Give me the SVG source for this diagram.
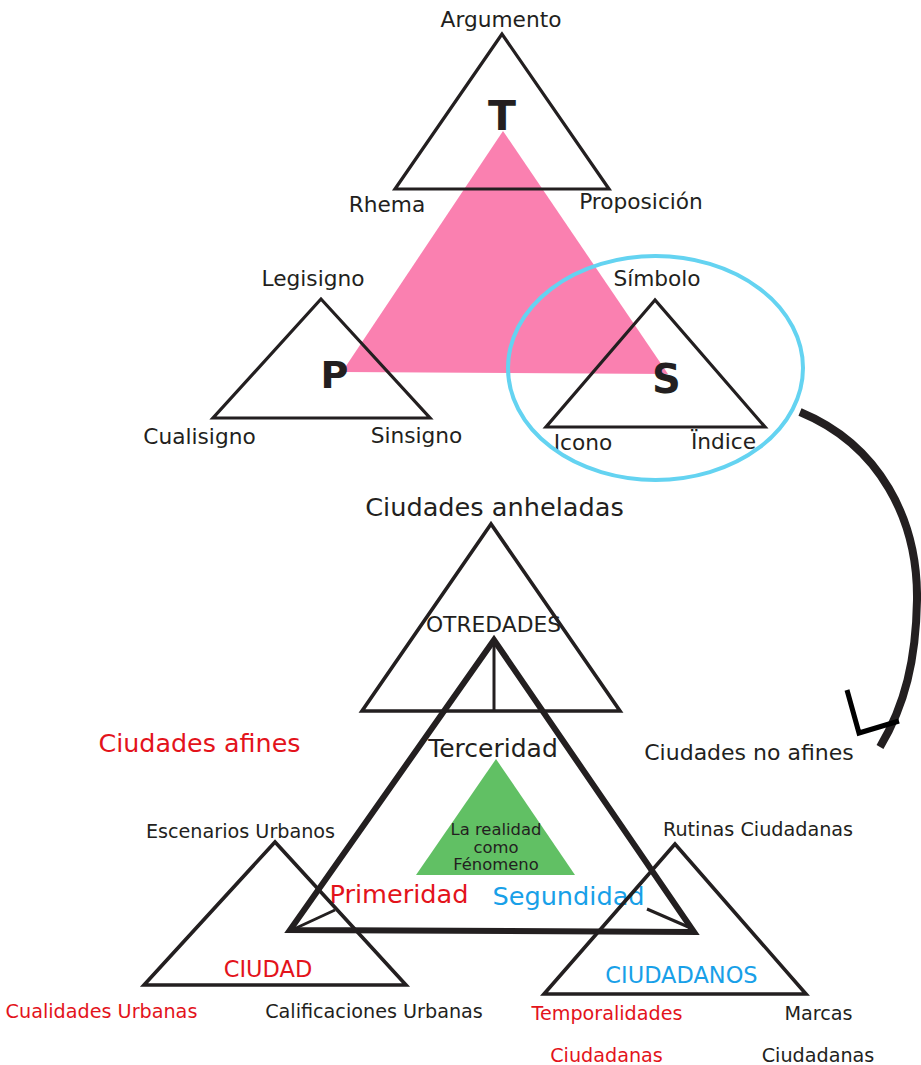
<svg xmlns="http://www.w3.org/2000/svg" width="921" height="1065" viewBox="0 0 921 1065">
<style>
text{font-family:"DejaVu Sans","Verdana",sans-serif;fill:#231f20;text-anchor:middle}
.tri{fill:none;stroke:#231f20;stroke-linejoin:miter}
.big{font-size:21.7px}
.letter{font-weight:bold}
.red{fill:#e3131b}
.blue{fill:#18a0e8}
.s18{font-size:19.2px}
.conn{fill:none;stroke:#231f20}
</style>
<rect width="921" height="1065" fill="#ffffff"/>

<g id="pink-triangle">
<polygon points="503,131 342,372 668,374" fill="#fa80b0"/>
</g>

<g id="node-T">
<polygon class="tri" style="stroke-width:3.2" points="502,34 395,189 609,189"/>
<text class="big" x="501" y="27">Argumento</text>
<text class="big" x="387" y="212">Rhema</text>
<text class="big" x="641" y="209">Proposición</text>
<text class="letter" x="502" y="130" font-size="41">T</text>
</g>

<g id="node-P">
<polygon class="tri" style="stroke-width:3.2" points="321,299 213,418 430,418"/>
<text class="big" x="313" y="286">Legisigno</text>
<text class="big" x="199.5" y="444">Cualisigno</text>
<text class="big" x="416.5" y="443">Sinsigno</text>
<text class="letter" x="334.5" y="388" font-size="38">P</text>
</g>

<g id="node-S">
<polygon class="tri" style="stroke-width:3.2" points="655,300 546,427 765,427"/>
<text class="big" x="657" y="286">Símbolo</text>
<text class="big" x="583" y="450">Icono</text>
<text class="big" x="723.5" y="449">Ïndice</text>
<text class="letter" x="666.5" y="393" font-size="40">S</text>
<ellipse cx="655.5" cy="368" rx="147.5" ry="112" fill="none" stroke="#64d3f1" stroke-width="4"/>
</g>

<g id="connectors">
<path class="conn" d="M800,412 C880,445 918,520 917,600 C916,660 905,705 880,747" style="stroke-width:8"/>
<polyline class="conn" points="847,690 859,733 899,721" style="stroke:#000;stroke-width:5"/>
<line class="conn" x1="294" y1="929" x2="335" y2="910" style="stroke-width:3"/>
<line class="conn" x1="647" y1="909" x2="693" y2="929" style="stroke-width:3"/>
</g>

<g id="node-otredades">
<polygon class="tri" style="stroke-width:3.6" points="491,524 362,711 620,711"/>
<line x1="494" y1="640" x2="494" y2="711" stroke="#231f20" stroke-width="3"/>
<text x="494.5" y="516" font-size="25.6">Ciudades anheladas</text>
<text x="493.5" y="632" font-size="21.8">OTREDADES</text>
</g>

<g id="node-terceridad">
<polygon class="tri" style="stroke-width:6" points="494,640 290,930 694,932"/>
<text x="493" y="757" font-size="25">Terceridad</text>
</g>

<g id="node-fenomeno">
<polygon points="496,759 416,875 575,875" fill="#61c064"/>
<text x="496" y="835" font-size="16.4">La realidad</text>
<text x="496" y="852.5" font-size="16.4">como</text>
<text x="496" y="870" font-size="16.4">Fénomeno</text>
</g>

<g id="label-primeridad">
<text class="red" x="399" y="903" font-size="25.6">Primeridad</text>
</g>
<g id="label-segundidad">
<text class="blue" x="568.5" y="905" font-size="25.6">Segundidad</text>
</g>

<g id="label-afines">
<text class="red" x="199.5" y="752" font-size="25.4">Ciudades afines</text>
</g>
<g id="label-no-afines">
<text x="749" y="760" font-size="22">Ciudades no afines</text>
</g>

<g id="node-ciudad">
<polygon class="tri" style="stroke-width:3.6" points="275,842 144,985 406,985"/>
<text class="s18" x="240.5" y="838">Escenarios Urbanos</text>
<text class="red" x="268" y="977" font-size="22.5">CIUDAD</text>
<text class="s18 red" x="101.5" y="1018">Cualidades Urbanas</text>
<text class="s18" x="374" y="1018">Calificaciones Urbanas</text>
</g>

<g id="node-ciudadanos">
<polygon class="tri" style="stroke-width:3.6" points="675,844 544,994 806,994"/>
<text class="s18" x="758" y="836">Rutinas Ciudadanas</text>
<text class="blue" x="681.5" y="983" font-size="22.5">CIUDADANOS</text>
<text class="s18 red" x="607" y="1020">Temporalidades</text>
<text class="s18 red" x="606.5" y="1062">Ciudadanas</text>
<text class="s18" x="818.5" y="1020">Marcas</text>
<text class="s18" x="818" y="1062">Ciudadanas</text>
</g>
</svg>
